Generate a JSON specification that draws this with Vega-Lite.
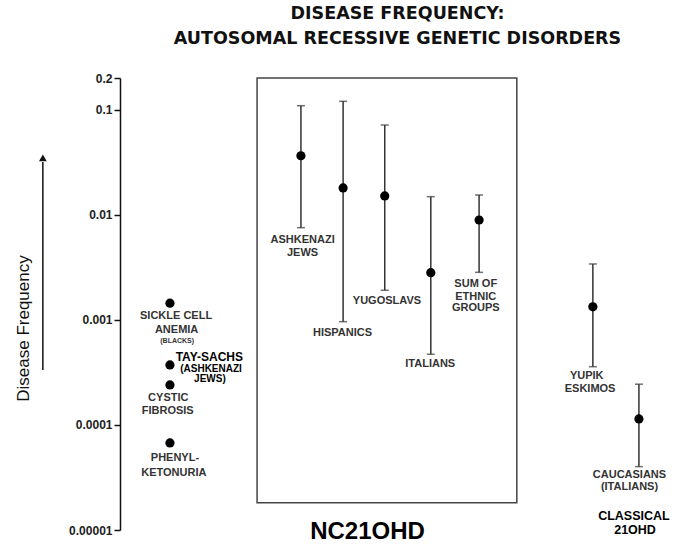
{
  "$schema": "https://vega.github.io/schema/vega-lite/v6.json",
  "width": 555,
  "height": 452,
  "autosize": {"type": "none"},
  "padding": {"left": 120, "top": 78, "right": 2, "bottom": 20},
  "background": "white",
  "config": {"view": {"stroke": null}},
  "title": {
    "text": ["DISEASE FREQUENCY:", "AUTOSOMAL RECESSIVE GENETIC DISORDERS"],
    "font": "DejaVu Sans",
    "fontSize": 17.5,
    "fontWeight": "bold",
    "color": "#111",
    "lineHeight": 25,
    "anchor": "middle",
    "frame": "group",
    "offset": 25
  },
  "datasets": {
    "points": [
      {"name": "Sickle cell anemia", "pos": 9.0, "freq": 0.00144, "lo": null, "hi": null},
      {"name": "Tay-Sachs", "pos": 9.0, "freq": 0.000372, "lo": null, "hi": null},
      {"name": "Cystic fibrosis", "pos": 9.0, "freq": 0.00024, "lo": null, "hi": null},
      {"name": "Phenylketonuria", "pos": 9.0, "freq": 0.0000673, "lo": null, "hi": null},
      {"name": "Ashkenazi Jews", "pos": 32.6, "freq": 0.0364, "lo": 0.00753, "hi": 0.109},
      {"name": "Hispanics", "pos": 40.2, "freq": 0.018, "lo": 0.00096, "hi": 0.12},
      {"name": "Yugoslavs", "pos": 47.7, "freq": 0.0151, "lo": 0.00191, "hi": 0.0714},
      {"name": "Italians", "pos": 56.0, "freq": 0.00281, "lo": 0.00047, "hi": 0.01485},
      {"name": "Sum of ethnic groups", "pos": 64.7, "freq": 0.00891, "lo": 0.00283, "hi": 0.0154},
      {"name": "Yupik Eskimos", "pos": 85.2, "freq": 0.00133, "lo": 0.000358, "hi": 0.0034},
      {"name": "Caucasians (Italians)", "pos": 93.5, "freq": 0.000114, "lo": 0.0000401, "hi": 0.000244}
    ],
    "labels": [
      {"text": "SICKLE CELL", "pos": 10.1, "freq": 0.001088, "kind": "name"},
      {"text": "ANEMIA", "pos": 10.2, "freq": 0.0008, "kind": "name"},
      {"text": "(BLACKS)", "pos": 10.3, "freq": 0.000629, "kind": "tiny"},
      {"text": "TAY-SACHS", "pos": 16.1, "freq": 0.000446, "kind": "tay"},
      {"text": "(ASHKENAZI", "pos": 16.4, "freq": 0.000338, "kind": "tay2"},
      {"text": "JEWS)", "pos": 16.2, "freq": 0.000272, "kind": "tay2"},
      {"text": "CYSTIC", "pos": 8.7, "freq": 0.000179, "kind": "name"},
      {"text": "FIBROSIS", "pos": 8.6, "freq": 0.0001366, "kind": "name"},
      {"text": "PHENYL-", "pos": 9.9, "freq": 0.0000482, "kind": "name"},
      {"text": "KETONURIA", "pos": 9.7, "freq": 0.0000351, "kind": "name"},
      {"text": "ASHKENAZI", "pos": 32.9, "freq": 0.00575, "kind": "name"},
      {"text": "JEWS", "pos": 32.9, "freq": 0.00435, "kind": "name"},
      {"text": "HISPANICS", "pos": 40.1, "freq": 0.000744, "kind": "name"},
      {"text": "YUGOSLAVS", "pos": 48.1, "freq": 0.00152, "kind": "name"},
      {"text": "ITALIANS", "pos": 55.9, "freq": 0.000378, "kind": "name"},
      {"text": "SUM OF", "pos": 64.1, "freq": 0.00219, "kind": "name"},
      {"text": "ETHNIC", "pos": 64.1, "freq": 0.00166, "kind": "name"},
      {"text": "GROUPS", "pos": 64.1, "freq": 0.00129, "kind": "name"},
      {"text": "YUPIK", "pos": 84.1, "freq": 0.000292, "kind": "name"},
      {"text": "ESKIMOS", "pos": 84.7, "freq": 0.00022, "kind": "name"},
      {"text": "CAUCASIANS", "pos": 91.8, "freq": 0.0000334, "kind": "name"},
      {"text": "(ITALIANS)", "pos": 91.8, "freq": 0.0000258, "kind": "name"},
      {"text": "NC21OHD", "pos": 44.6, "freq": 0.00000964, "kind": "big"},
      {"text": "CLASSICAL", "pos": 92.6, "freq": 0.0000136, "kind": "group"},
      {"text": "21OHD", "pos": 92.8, "freq": 0.00001, "kind": "group"}
    ],
    "frame": [{"x1": 24.7, "x2": 71.5, "y1": 0.0000182, "y2": 0.2}],
    "arrow": [{"pos": -13.9, "lo": 0.000333, "hi": 0.0318, "tip": 0.0347}]
  },
  "layer": [
    {
      "data": {"name": "frame"},
      "mark": {"type": "rect", "fillOpacity": 0, "stroke": "#444", "strokeWidth": 1.5},
      "encoding": {
        "x": {"field": "x1", "type": "quantitative", "scale": {"domain": [0, 100], "nice": false, "zero": false}, "axis": null},
        "x2": {"field": "x2"},
        "y": {
          "field": "y1",
          "type": "quantitative",
          "scale": {"type": "log", "domain": [0.00001, 0.2], "nice": false},
          "axis": {
            "values": [0.00001, 0.0001, 0.001, 0.01, 0.1, 0.2],
            "format": ".5~f",
            "title": "Disease Frequency",
            "titleFont": "Liberation Sans",
            "titleFontSize": 17,
            "titleFontWeight": "normal",
            "titleColor": "#111",
            "titleAngle": -90,
            "titleX": -97,
            "titleY": 250,
            "titleAlign": "center",
            "titleBaseline": "middle",
            "labelFont": "Liberation Sans",
            "labelFontWeight": "bold",
            "labelFontSize": 12,
            "labelColor": "#222",
            "labelPadding": 2,
            "labelOverlap": false,
            "labelFlush": false,
            "labelBound": false,
            "domainColor": "#111",
            "domainWidth": 1.5,
            "tickColor": "#111",
            "tickWidth": 1.5,
            "tickSize": 6,
            "grid": false
          }
        },
        "y2": {"field": "y2"}
      }
    },
    {
      "data": {"name": "points"},
      "transform": [{"filter": "datum.lo != null"}],
      "mark": {"type": "rule", "stroke": "#333", "strokeWidth": 1.5},
      "encoding": {
        "x": {"field": "pos", "type": "quantitative", "axis": null},
        "y": {"field": "lo", "type": "quantitative"},
        "y2": {"field": "hi"}
      }
    },
    {
      "data": {"name": "points"},
      "transform": [{"filter": "datum.lo != null"}],
      "mark": {"type": "tick", "orient": "horizontal", "color": "#333", "size": 8, "thickness": 1.5},
      "encoding": {
        "x": {"field": "pos", "type": "quantitative", "axis": null},
        "y": {"field": "lo", "type": "quantitative"}
      }
    },
    {
      "data": {"name": "points"},
      "transform": [{"filter": "datum.hi != null"}],
      "mark": {"type": "tick", "orient": "horizontal", "color": "#333", "size": 8, "thickness": 1.5},
      "encoding": {
        "x": {"field": "pos", "type": "quantitative", "axis": null},
        "y": {"field": "hi", "type": "quantitative"}
      }
    },
    {
      "data": {"name": "arrow"},
      "mark": {"type": "rule", "stroke": "#111", "strokeWidth": 1.5},
      "encoding": {
        "x": {"field": "pos", "type": "quantitative", "axis": null},
        "y": {"field": "lo", "type": "quantitative"},
        "y2": {"field": "hi"}
      }
    },
    {
      "data": {"name": "arrow"},
      "mark": {"type": "point", "shape": "triangle-up", "filled": true, "color": "#111", "size": 60, "opacity": 1},
      "encoding": {
        "x": {"field": "pos", "type": "quantitative", "axis": null},
        "y": {"field": "tip", "type": "quantitative"}
      }
    },
    {
      "data": {"name": "points"},
      "mark": {"type": "circle", "color": "#000", "size": 85, "opacity": 1},
      "encoding": {
        "x": {"field": "pos", "type": "quantitative", "axis": null},
        "y": {"field": "freq", "type": "quantitative"}
      }
    },
    {
      "data": {"name": "labels"},
      "transform": [{"filter": "datum.kind == 'name'"}],
      "mark": {"type": "text", "font": "Liberation Sans", "fontWeight": "bold", "baseline": "middle", "align": "center", "fontSize": 11, "color": "#333"},
      "encoding": {
        "x": {"field": "pos", "type": "quantitative", "axis": null},
        "y": {"field": "freq", "type": "quantitative"},
        "text": {"field": "text"}
      }
    },
    {
      "data": {"name": "labels"},
      "transform": [{"filter": "datum.kind == 'tiny'"}],
      "mark": {"type": "text", "font": "Liberation Sans", "fontWeight": "bold", "baseline": "middle", "align": "center", "fontSize": 7, "color": "#333"},
      "encoding": {
        "x": {"field": "pos", "type": "quantitative", "axis": null},
        "y": {"field": "freq", "type": "quantitative"},
        "text": {"field": "text"}
      }
    },
    {
      "data": {"name": "labels"},
      "transform": [{"filter": "datum.kind == 'tay'"}],
      "mark": {"type": "text", "font": "Liberation Sans", "fontWeight": "bold", "baseline": "middle", "align": "center", "fontSize": 12, "color": "#000"},
      "encoding": {
        "x": {"field": "pos", "type": "quantitative", "axis": null},
        "y": {"field": "freq", "type": "quantitative"},
        "text": {"field": "text"}
      }
    },
    {
      "data": {"name": "labels"},
      "transform": [{"filter": "datum.kind == 'tay2'"}],
      "mark": {"type": "text", "font": "Liberation Sans", "fontWeight": "bold", "baseline": "middle", "align": "center", "fontSize": 10, "color": "#000"},
      "encoding": {
        "x": {"field": "pos", "type": "quantitative", "axis": null},
        "y": {"field": "freq", "type": "quantitative"},
        "text": {"field": "text"}
      }
    },
    {
      "data": {"name": "labels"},
      "transform": [{"filter": "datum.kind == 'group'"}],
      "mark": {"type": "text", "font": "Liberation Sans", "fontWeight": "bold", "baseline": "middle", "align": "center", "fontSize": 12.5, "color": "#000"},
      "encoding": {
        "x": {"field": "pos", "type": "quantitative", "axis": null},
        "y": {"field": "freq", "type": "quantitative"},
        "text": {"field": "text"}
      }
    },
    {
      "data": {"name": "labels"},
      "transform": [{"filter": "datum.kind == 'big'"}],
      "mark": {"type": "text", "font": "Liberation Sans", "fontWeight": "bold", "baseline": "middle", "align": "center", "fontSize": 24, "color": "#000"},
      "encoding": {
        "x": {"field": "pos", "type": "quantitative", "axis": null},
        "y": {"field": "freq", "type": "quantitative"},
        "text": {"field": "text"}
      }
    }
  ]
}
